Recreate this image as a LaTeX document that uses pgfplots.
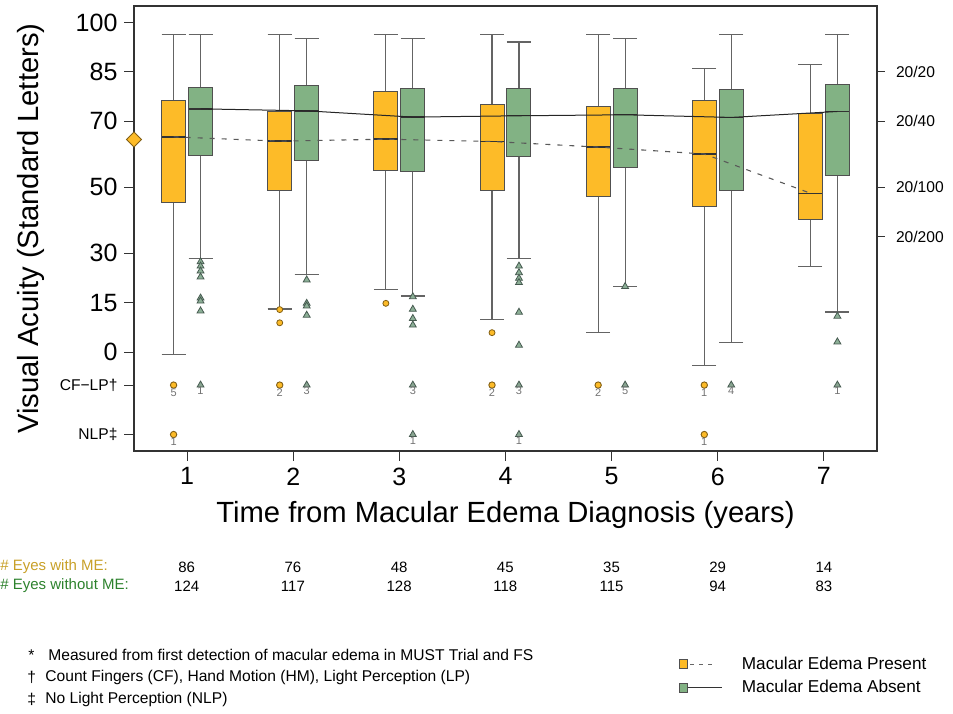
\documentclass[border=0pt]{standalone}
\usepackage{pgfplots}
\pgfplotsset{compat=1.18}
\usepgfplotslibrary{statistics}
\usepackage{fontspec}
\setmainfont{Liberation Sans}
\definecolor{meorange}{RGB}{253,187,40}
\definecolor{megreen}{RGB}{130,178,132}
\definecolor{boxedge}{RGB}{80,80,80}
\definecolor{whisk}{RGB}{100,100,100}
\definecolor{goldtxt}{RGB}{200,160,40}
\definecolor{greentxt}{RGB}{45,130,45}
\definecolor{orEdge}{RGB}{130,95,20}
\definecolor{grEdge}{RGB}{70,90,80}
\definecolor{triFill}{RGB}{140,175,150}
\pgfplotsset{
  mebox/.style={forget plot, boxplot prepared={draw direction=y, #1, box extend=0.226, whisker extend=0.226},
     fill=meorange, draw=boxedge, line width=0.5pt},
  nmbox/.style={forget plot, boxplot prepared={draw direction=y, #1, box extend=0.226, whisker extend=0.226},
     fill=megreen, draw=boxedge, line width=0.5pt},
  boxplot/every whisker/.style={draw=whisk, line width=0.6pt},
  boxplot/every median/.style={draw=black!80, line width=0.7pt},
}
\begin{document}
\begin{tikzpicture}
\path[use as bounding box] (0,0) rectangle (476.5pt,-356.5pt);
\begin{axis}[at={(67pt,-225.5pt)}, anchor=south west, scale only axis,
  width=371.5pt, height=222.5pt,
  boxplot/draw direction=y,
  xmin=0.5, xmax=7.5, ymin=-30, ymax=105,
  xtick={1,2,3,4,5,6,7},
  ytick={-25,-10,0,15,30,50,70,85,100},
  yticklabels={{\fontsize{7.8}{9}\selectfont NLP‡},{\fontsize{7.8}{9}\selectfont CF−LP†},0,15,30,50,70,85,100},
  tick align=outside, xtick pos=left, ytick pos=left,
  major tick length=4.75pt,
  axis line style={draw=black!80, line width=0.6pt},
  every tick/.style={black!80, line width=0.5pt},
  ticklabel style={font=\fontsize{12.5}{14}\selectfont},
  /pgf/number format/assume math mode=true,
  clip=false,
  xlabel={Time from Macular Edema Diagnosis (years)},
  ylabel={Visual Acuity (Standard Letters)},
  xlabel style={font=\fontsize{14.6}{17}\selectfont, at={(axis description cs:0.5,-0.144)}, anchor=center},
  ylabel style={font=\fontsize{14.6}{17}\selectfont, at={(axis description cs:-0.139,0.5)}, anchor=center},
  legend style={at={(axis description cs:0.733,-0.452)}, anchor=north west, draw=none, fill=none,
     font=\fontsize{8.6}{10}\selectfont, row sep=0pt, inner sep=0pt,
     /tikz/every odd column/.append style={column sep=7.5pt}},
  legend cell align=left,
]
% Macular edema present (orange)
\addplot[mebox={draw position=0.873, lower whisker=-0.7, lower quartile=45.5, median=65.3, upper quartile=76.3, upper whisker=96.4}] coordinates {};
\addplot[mebox={draw position=1.873, lower whisker=13.1, lower quartile=49.0, median=64.0, upper quartile=73.0, upper whisker=96.4}] coordinates {};
\addplot[mebox={draw position=2.873, lower whisker=19.1, lower quartile=55.2, median=64.6, upper quartile=79.1, upper whisker=96.4}] coordinates {};
\addplot[mebox={draw position=3.873, lower whisker=10.0, lower quartile=49.0, median=63.9, upper quartile=75.1, upper whisker=96.4}] coordinates {};
\addplot[mebox={draw position=4.873, lower whisker=5.9, lower quartile=47.1, median=62.2, upper quartile=74.6, upper whisker=96.4}] coordinates {};
\addplot[mebox={draw position=5.873, lower whisker=-4.0, lower quartile=44.2, median=60.1, upper quartile=76.3, upper whisker=86.1}] coordinates {};
\addplot[mebox={draw position=6.873, lower whisker=25.9, lower quartile=40.1, median=48.2, upper quartile=72.3, upper whisker=87.2}] coordinates {};
% Macular edema absent (green)
\addplot[nmbox={draw position=1.127, lower whisker=28.5, lower quartile=59.8, median=73.8, upper quartile=80.3, upper whisker=96.4}] coordinates {};
\addplot[nmbox={draw position=2.127, lower whisker=23.6, lower quartile=58.0, median=73.2, upper quartile=81.0, upper whisker=95.1}] coordinates {};
\addplot[nmbox={draw position=3.127, lower whisker=17.0, lower quartile=54.8, median=71.3, upper quartile=80.1, upper whisker=95.1}] coordinates {};
\addplot[nmbox={draw position=4.127, lower whisker=28.3, lower quartile=59.4, median=71.7, upper quartile=80.1, upper whisker=94.1}] coordinates {};
\addplot[nmbox={draw position=5.127, lower whisker=19.9, lower quartile=56.0, median=72.0, upper quartile=80.1, upper whisker=95.1}] coordinates {};
\addplot[nmbox={draw position=6.127, lower whisker=2.9, lower quartile=49.1, median=71.2, upper quartile=79.8, upper whisker=96.4}] coordinates {};
\addplot[nmbox={draw position=7.127, lower whisker=12.2, lower quartile=53.7, median=73.0, upper quartile=81.2, upper whisker=96.4}] coordinates {};
% median connecting lines
\addplot[forget plot, black!85, line width=0.5pt] coordinates {(1.127,73.8)(2.127,73.2)(3.127,71.3)(4.127,71.7)(5.127,72.0)(6.127,71.2)(7.127,73.0)};
\addplot[forget plot, black!65, line width=0.55pt, dash pattern=on 2.5pt off 3.5pt] coordinates {(0.873,65.3)(1.873,64.0)(2.873,64.6)(3.873,63.9)(4.873,62.2)(5.873,60.1)(6.873,48.2)};
% outliers
\addplot[forget plot, only marks, mark=*, mark size=1.5pt, mark options={fill=meorange, draw=orEdge, line width=0.4pt}] coordinates {(1.873,12.9)(1.873,8.9)(2.873,14.8)(3.873,5.9)};
\addplot[forget plot, only marks, mark=triangle*, mark size=2pt, mark options={fill=triFill, draw=grEdge, line width=0.4pt}] coordinates {
 (1.127,27.4)(1.127,26.1)(1.127,24.6)(1.127,22.8)(1.127,16.4)(1.127,15.5)(1.127,12.5)
 (2.127,21.9)(2.127,14.8)(2.127,14.0)(2.127,11.2)
 (3.127,16.8)(3.127,13.0)(3.127,10.2)(3.127,8.2)
 (4.127,26.1)(4.127,24.1)(4.127,22.4)(4.127,21.1)(4.127,12.1)(4.127,2.1)
 (5.127,19.9)
 (7.127,10.9)(7.127,3.1)};
% CF-LP and NLP counts
\addplot[forget plot, only marks, mark=*, mark size=1.6pt, mark options={fill=meorange, draw=orEdge, line width=0.45pt},
  point meta=explicit symbolic, nodes near coords,
  nodes near coords style={anchor=north, font=\fontsize{5.5}{6}\selectfont, text=black!55, inner sep=0.3pt, yshift=-1.2pt}]
  coordinates {(0.873,-10)[5] (1.873,-10)[2] (3.873,-10)[2] (4.873,-10)[2] (5.873,-10)[1] (0.873,-25)[1] (5.873,-25)[1]};
\addplot[forget plot, only marks, mark=triangle*, mark size=2pt, mark options={fill=triFill!80!gray, draw=grEdge, line width=0.4pt},
  point meta=explicit symbolic, nodes near coords,
  nodes near coords style={anchor=north, font=\fontsize{5.5}{6}\selectfont, text=black!55, inner sep=0.3pt, yshift=-0.6pt}]
  coordinates {(1.127,-10)[1] (2.127,-10)[3] (3.127,-10)[3] (4.127,-10)[3] (5.127,-10)[5] (6.127,-10)[4] (7.127,-10)[1] (3.127,-25)[1] (4.127,-25)[1]};
% baseline diamond
\addplot[forget plot, only marks, mark=square*, mark size=2.65pt, mark options={rotate=45, fill=meorange, draw=orEdge, line width=0.4pt}] coordinates {(0.5,64.5)};
% legend
\addlegendimage{legend image code/.code={
  \draw[black!60, line width=0.5pt, dash pattern=on 2pt off 2.5pt] (5.5pt,0pt) -- (17pt,0pt);
  \draw[fill=meorange, draw=boxedge, line width=0.4pt] (0pt,-2.25pt) rectangle (4pt,2.25pt);}}
\addlegendentry{Macular Edema Present}
\addlegendimage{legend image code/.code={
  \draw[black!80, line width=0.5pt] (4pt,0pt) -- (21.5pt,0pt);
  \draw[fill=megreen, draw=boxedge, line width=0.4pt] (0pt,-2.25pt) rectangle (4pt,2.25pt);}}
\addlegendentry{Macular Edema Absent}
\end{axis}
% right axis (Snellen)
\begin{axis}[at={(67pt,-225.5pt)}, anchor=south west, scale only axis,
  width=371.5pt, height=222.5pt,
  xmin=0.5, xmax=7.5, ymin=-30, ymax=105,
  axis x line=none, axis y line*=right,
  ytick={35,50,70,85}, yticklabels={20/200,20/100,20/40,20/20},
  tick align=outside, major tick length=4pt,
  axis line style={draw=black!80, line width=0.6pt},
  every tick/.style={black!80, line width=0.5pt},
  yticklabel style={font=\fontsize{7.8}{9}\selectfont, xshift=2pt},
]
\addplot[draw=none, forget plot] coordinates {(1,0)};
\end{axis}
% sample sizes and footnotes (pixel coordinates)
\begin{scope}[x=0.5pt, y=-0.5pt]
\node[anchor=west, inner sep=0pt, text=goldtxt, font=\fontsize{7.5}{9}\selectfont] at (0,567) {\# Eyes with ME:};
\node[anchor=west, inner sep=0pt, text=greentxt, font=\fontsize{7.5}{9}\selectfont] at (0,586) {\# Eyes without ME:};
\foreach \n [count=\i] in {86,76,48,45,35,29,14}
  \node[inner sep=0pt, font=\fontsize{7.5}{9}\selectfont] at ({186.7+106.2*(\i-1)},567) {\n};
\foreach \n [count=\i] in {124,117,128,118,115,94,83}
  \node[inner sep=0pt, font=\fontsize{7.5}{9}\selectfont] at ({186.7+106.2*(\i-1)},586) {\n};
\node[anchor=west, inner sep=0pt, font=\fontsize{7.8}{9}\selectfont] at (28,655) {*};
\node[anchor=west, inner sep=0pt, font=\fontsize{7.8}{9}\selectfont] at (48,655) {Measured from first detection of macular edema in MUST Trial and FS};
\node[anchor=west, inner sep=0pt, font=\fontsize{7.8}{9}\selectfont] at (27,677) {†};
\node[anchor=west, inner sep=0pt, font=\fontsize{7.8}{9}\selectfont] at (45,677) {Count Fingers (CF), Hand Motion (HM), Light Perception (LP)};
\node[anchor=west, inner sep=0pt, font=\fontsize{7.8}{9}\selectfont] at (27,699) {‡};
\node[anchor=west, inner sep=0pt, font=\fontsize{7.8}{9}\selectfont] at (45,699) {No Light Perception (NLP)};
\end{scope}
\end{tikzpicture}
\end{document}
